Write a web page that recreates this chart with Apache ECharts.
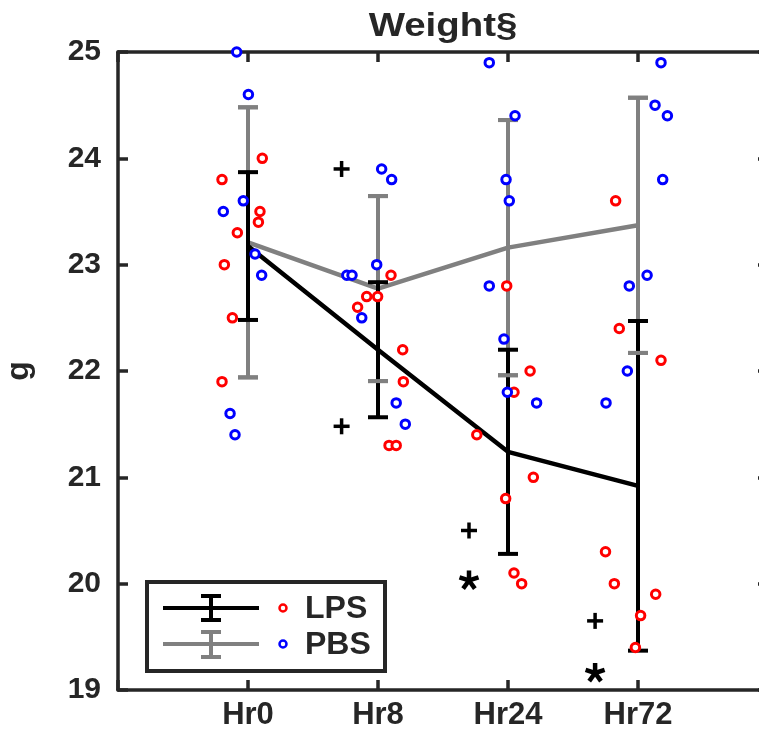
<!DOCTYPE html>
<html>
<head>
<meta charset="utf-8">
<style>
html,body{margin:0;padding:0;background:#fff;}
#c{width:759px;height:736px;}
</style>
<script src="https://cdn.jsdelivr.net/npm/echarts@6/dist/echarts.min.js"></script>
</head>
<body>
<div id="c"></div>
<script>
// ---- data ----
const categories = ['Hr0', 'Hr8', 'Hr24', 'Hr72'];
const yTicks = [19, 20, 21, 22, 23, 24, 25];

const lpsMean = [23.175, 22.2, 21.24, 20.92];
const lpsSD   = [0.695, 0.635, 0.96, 1.55];
const pbsMean = [23.21, 22.775, 23.16, 23.37];
const pbsSD   = [1.27, 0.87, 1.2, 1.2];

// individual animals: x (jittered category position) and y (g)
const lpsX = [0.80, 1.11, 1.092, 1.08, 0.918, 0.818, 0.88, 0.80,
              2.10, 1.913, 1.997, 1.843, 2.19, 2.195, 2.085, 2.14,
              2.99, 3.17, 3.046, 2.76, 3.195, 2.982, 3.046, 3.105,
              3.828, 3.856, 4.177, 3.75, 3.818, 4.136, 4.02, 3.98];
const lpsY = [23.8, 24.0, 23.5, 23.4, 23.3, 23.0, 22.5, 21.9,
              22.9, 22.7, 22.7, 22.6, 22.2, 21.9, 21.3, 21.3,
              22.8, 22.0, 21.8, 21.4, 21.0, 20.8, 20.1, 20.0,
              23.6, 22.4, 22.1, 20.3, 20.0, 19.9, 19.7, 19.4];
const pbsX = [0.913, 1.003, 0.964, 0.81, 1.054, 1.105, 0.862, 0.90,
              2.028, 2.105, 1.99, 1.76, 1.80, 1.875, 2.14, 2.21,
              2.856, 3.054, 2.985, 3.01, 2.856, 2.969, 2.995, 3.22,
              4.177, 4.131, 4.226, 4.19, 4.07, 3.933, 3.918, 3.754];
const pbsY = [25.0, 24.6, 23.6, 23.5, 23.1, 22.9, 21.6, 21.4,
              23.9, 23.8, 23.0, 22.9, 22.9, 22.5, 21.7, 21.5,
              24.9, 24.4, 23.8, 23.6, 22.8, 22.3, 21.8, 21.7,
              24.9, 24.5, 24.4, 23.8, 22.9, 22.8, 22.0, 21.7];

// significance marks
const plusX = [1.72, 1.72, 2.70, 3.67];
const plusY = [23.9, 21.48, 20.5, 19.65];
const starX = [2.70, 3.67];
const starY = [20.03, 19.16];

// ---- chart ----
const FONT = '"Liberation Sans", Arial, Helvetica, sans-serif';
const AX = '#262626';
const GRAY = '#808080';
const chart = echarts.init(document.getElementById('c'), null, {renderer: 'canvas'});

const meanData = (m) => m.map((v, i) => [i + 1, v]);
const barData = (m, s) => m.map((v, i) => [i + 1, v, s[i]]);
const zip = (xs, ys) => xs.map((x, i) => [x, ys[i]]);

function errRender(color, capsOnly) {
  return function (params, api) {
    const x = api.value(0), m = api.value(1), s = api.value(2);
    const top = api.coord([x, m + s]);
    const bot = api.coord([x, m - s]);
    const w = 10;
    const st = {stroke: color, lineWidth: 4};
    const ch = [
      {type: 'line', shape: {x1: top[0] - w, y1: top[1], x2: top[0] + w, y2: top[1]}, style: st},
      {type: 'line', shape: {x1: bot[0] - w, y1: bot[1], x2: bot[0] + w, y2: bot[1]}, style: st}
    ];
    if (!capsOnly) ch.unshift({type: 'line', shape: {x1: top[0], y1: top[1], x2: bot[0], y2: bot[1]}, style: st});
    return {type: 'group', children: ch};
  };
}

function plusRender(params, api) {
  const p = api.coord([api.value(0), api.value(1)]);
  const h = 8;
  const st = {stroke: '#000', lineWidth: 3.5};
  return {type: 'group', children: [
    {type: 'line', shape: {x1: p[0] - h, y1: p[1], x2: p[0] + h, y2: p[1]}, style: st},
    {type: 'line', shape: {x1: p[0], y1: p[1] - h, x2: p[0], y2: p[1] + h}, style: st}
  ]};
}

function starRender(params, api) {
  const p = api.coord([api.value(0), api.value(1)]);
  const r = 10;
  const ch = [];
  for (let k = 0; k < 5; k++) {
    const a = (-90 + k * 72) * Math.PI / 180;
    ch.push({type: 'line', shape: {x1: p[0], y1: p[1], x2: p[0] + r * Math.cos(a), y2: p[1] + r * Math.sin(a)},
      style: {stroke: '#000', lineWidth: 4.5, lineCap: 'butt'}});
  }
  return {type: 'group', children: ch};
}

const axisCommon = {
  type: 'value',
  axisLine: {show: true, onZero: false, lineStyle: {color: AX, width: 3.5}},
  axisTick: {show: true, inside: true, length: 10, lineStyle: {color: AX, width: 3.5}},
  splitLine: {show: false}
};

const option = {
  animation: false,
  backgroundColor: '#fff',
  grid: {left: 118, top: 52, width: 650, height: 638, containLabel: false, outerBoundsMode: 'none'},
  xAxis: [
    Object.assign({}, axisCommon, {
      position: 'bottom', min: 0, max: 5, interval: 1,
      axisLabel: {formatter: (v) => categories[v - 1] || '', fontSize: 31, fontWeight: 'bold',
        fontFamily: FONT, color: AX, margin: 10}
    }),
    Object.assign({}, axisCommon, {
      position: 'top', min: 0, max: 5, interval: 1, axisLabel: {show: false}
    })
  ],
  yAxis: [
    Object.assign({}, axisCommon, {
      position: 'left', min: yTicks[0], max: yTicks[yTicks.length - 1], interval: 1,
      axisLabel: {fontSize: 30, fontWeight: 'bold', fontFamily: FONT, color: AX, margin: 17},
      name: 'g', nameLocation: 'middle', nameGap: 83, nameRotate: 90,
      nameTextStyle: {fontSize: 32, fontWeight: 'bold', fontFamily: FONT, color: AX}
    }),
    Object.assign({}, axisCommon, {
      position: 'right', min: yTicks[0], max: yTicks[yTicks.length - 1], interval: 1,
      axisLabel: {show: false}
    })
  ],
  series: [
    {type: 'custom', name: 'PBS bars', renderItem: errRender(GRAY, false), data: barData(pbsMean, pbsSD), z: 2, clip: false},
    {type: 'line', name: 'PBS', data: meanData(pbsMean), symbol: 'none', lineStyle: {color: GRAY, width: 4.5}, z: 2},
    {type: 'custom', name: 'LPS bars', renderItem: errRender('#000', false), data: barData(lpsMean, lpsSD), z: 3, clip: false},
    {type: 'line', name: 'LPS', data: meanData(lpsMean), symbol: 'none', lineStyle: {color: '#000', width: 4.5}, z: 3},
    {type: 'custom', name: 'PBS caps', renderItem: errRender(GRAY, true), data: barData(pbsMean, pbsSD), z: 4, clip: false},
    {type: 'scatter', name: 'LPS pts', data: zip(lpsX, lpsY), symbol: 'circle', symbolSize: 8.5, clip: false,
      itemStyle: {color: '#fff', borderColor: '#ff0000', borderWidth: 3, opacity: 1}, z: 5},
    {type: 'scatter', name: 'PBS pts', data: zip(pbsX, pbsY), symbol: 'circle', symbolSize: 8.5, clip: false,
      itemStyle: {color: '#fff', borderColor: '#0000ff', borderWidth: 3, opacity: 1}, z: 5},
    {type: 'custom', name: 'plus', renderItem: plusRender, data: zip(plusX, plusY), z: 6, clip: false},
    {type: 'custom', name: 'star', renderItem: starRender, data: zip(starX, starY), z: 6, clip: false}
  ],
  graphic: [
    {type: 'text', x: 443, y: 27, scaleX: 1.13, style: {text: 'Weight§', font: 'bold 34px ' + FONT, fill: AX,
      textAlign: 'center', textVerticalAlign: 'middle'}},
    {type: 'group', z: 100, children: [
      {type: 'rect', shape: {x: 147, y: 582, width: 238, height: 89}, style: {fill: '#fff', stroke: AX, lineWidth: 4}},
      {type: 'line', shape: {x1: 163, y1: 608, x2: 259, y2: 608}, style: {stroke: '#000', lineWidth: 4}},
      {type: 'line', shape: {x1: 211, y1: 594, x2: 211, y2: 622}, style: {stroke: '#000', lineWidth: 4}},
      {type: 'line', shape: {x1: 201, y1: 596, x2: 221, y2: 596}, style: {stroke: '#000', lineWidth: 4}},
      {type: 'line', shape: {x1: 201, y1: 620, x2: 221, y2: 620}, style: {stroke: '#000', lineWidth: 4}},
      {type: 'circle', shape: {cx: 283, cy: 608, r: 3.5}, style: {fill: '#fff', stroke: '#ff0000', lineWidth: 2.5}},
      {type: 'text', x: 305, y: 609, style: {text: 'LPS', font: 'bold 32px ' + FONT, fill: AX, textVerticalAlign: 'middle'}},
      {type: 'line', shape: {x1: 163, y1: 644, x2: 259, y2: 644}, style: {stroke: GRAY, lineWidth: 4}},
      {type: 'line', shape: {x1: 211, y1: 631, x2: 211, y2: 658}, style: {stroke: GRAY, lineWidth: 4}},
      {type: 'line', shape: {x1: 201, y1: 632, x2: 221, y2: 632}, style: {stroke: GRAY, lineWidth: 4}},
      {type: 'line', shape: {x1: 201, y1: 657, x2: 221, y2: 657}, style: {stroke: GRAY, lineWidth: 4}},
      {type: 'circle', shape: {cx: 283, cy: 644, r: 3.5}, style: {fill: '#fff', stroke: '#0000ff', lineWidth: 2.5}},
      {type: 'text', x: 305, y: 645, style: {text: 'PBS', font: 'bold 32px ' + FONT, fill: AX, textVerticalAlign: 'middle'}}
    ]}
  ]
};
chart.setOption(option);
</script>
</body>
</html>
